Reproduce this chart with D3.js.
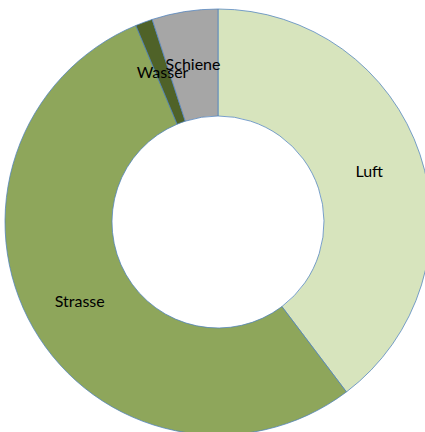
<!DOCTYPE html>
<html>
  <head>
    <meta charset="utf-8">
    <title>Verkehrsträger</title>
    <script src="https://cdn.jsdelivr.net/npm/d3@7"></script>
    <style>
      body { margin: 0; background: #fff; }
      svg { display: block; }
      .label { font: 16px Lato, "Open Sans", sans-serif; fill: #000; }
    </style>
  </head>
  <body>
    <script>
    // data (share in percent)
    const categories = ["Luft", "Strasse", "Wasser", "Schiene"];
    const shares = [39.7, 54.0, 1.3, 5.0];
    const colours = ["#d7e4bd", "#8ea65b", "#4f6228", "#a6a6a6"];

    const width = 425, height = 432;
    const cx = 218, cy = 222;
    const outer = 213, inner = 106;

    const svg = d3.select("body").append("svg")
      .attr("width", width)
      .attr("height", height)
      .append("g")
      .attr("transform", "translate(" + cx + "," + cy + ")");

    const pie = d3.pie().sort(null).value(d => d.v);
    const arc = d3.arc().innerRadius(inner).outerRadius(outer);

    const data = categories.map((c, i) => ({name: c, v: shares[i], col: colours[i]}));

    svg.selectAll("path.slice")
      .data(pie(data)).enter()
      .append("path")
      .attr("class", "slice")
      .attr("d", arc)
      .attr("fill", d => d.data.col)
      .attr("stroke", "#4f81bd")
      .attr("stroke-width", 0.75);

    // labels sit on the slice centroid, like the original
    svg.selectAll("text.label")
      .data(pie(data)).enter()
      .append("text")
      .attr("class", "label")
      .attr("transform", d => "translate(" + arc.centroid(d) + ")")
      .attr("text-anchor", "middle")
      .attr("dy", "0.35em")
      .text(d => d.data.name);
    </script>
  </body>
</html>
